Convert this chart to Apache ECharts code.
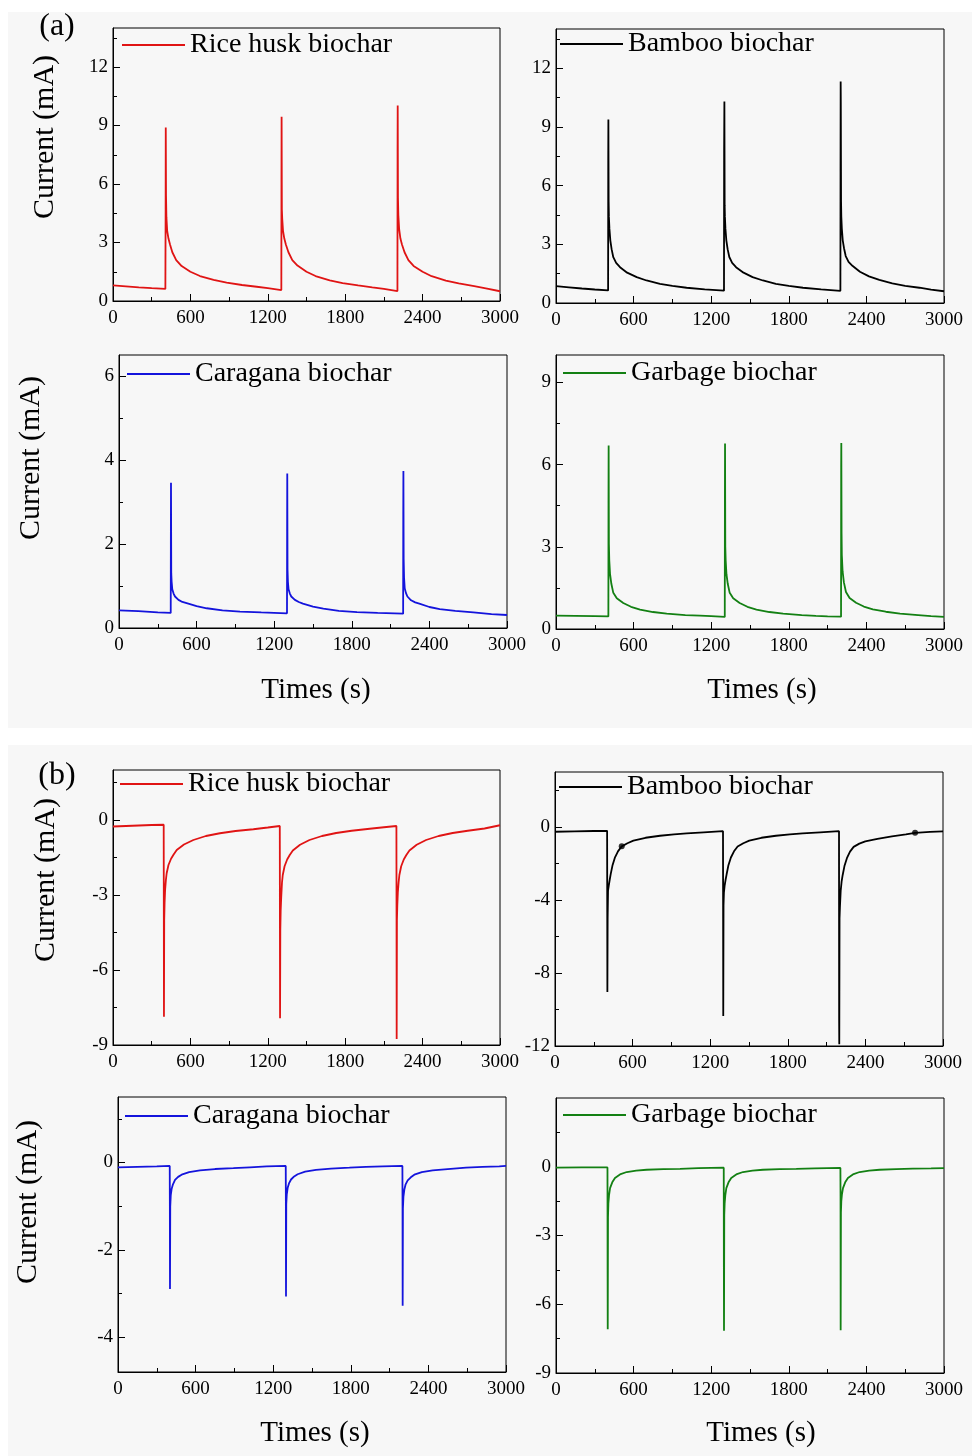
<!DOCTYPE html>
<html><head><meta charset="utf-8">
<script src="https://cdn.jsdelivr.net/npm/echarts@6/dist/echarts.min.js"></script>
<style>html,body{margin:0;padding:0;background:#fff}#c{width:972px;height:1456px}</style>
</head><body><div id="c"></div>
<script>
// ---------------- data ----------------
const xTickLabels = [0, 600, 1200, 1800, 2400, 3000];
const sampleNames = ['Rice husk biochar', 'Bamboo biochar', 'Caragana biochar', 'Garbage biochar'];

// (a) charging current, [time s, current mA]
const riceHuskA = [[0,0.80],[100,0.75],[200,0.70],[300,0.66],[406,0.62],[408,4.7],[409,8.9],[411,5.4],[414,4.3],[420,3.6],[430,3.2],[442,2.9],[460,2.5],[490,2.1],[532,1.79],[600,1.5],[674,1.28],[780,1.08],[881,0.94],[1000,0.82],[1114,0.73],[1200,0.66],[1305,0.56],
  [1306,6.1],[1307,9.45],[1309,4.7],[1312,4.2],[1318,3.6],[1328,3.2],[1340,2.9],[1360,2.5],[1390,2.1],[1430,1.82],[1500,1.5],[1570,1.28],[1680,1.06],[1780,0.92],[1900,0.8],[2010,0.7],[2100,0.62],[2205,0.51],
  [2206,7.6],[2207,10.03],[2209,5.3],[2212,4.4],[2218,3.7],[2228,3.2],[2240,2.9],[2260,2.5],[2290,2.1],[2330,1.8],[2400,1.5],[2470,1.27],[2580,1.05],[2680,0.9],[2800,0.76],[2900,0.64],[3000,0.5]];
const bambooA = [[0,0.86],[100,0.80],[200,0.74],[300,0.69],[403,0.64],[404,7.3],[405,9.37],[407,5.2],[409,4.4],[413,3.8],[420,3.2],[430,2.75],[443,2.34],[465,2.05],[495,1.83],[550,1.55],[624,1.32],[700,1.15],[804,0.98],[900,0.88],[1010,0.78],[1150,0.7],[1299,0.63],
  [1300,7.8],[1302,10.3],[1304,5.0],[1306,4.4],[1310,3.8],[1317,3.2],[1327,2.75],[1340,2.35],[1362,2.05],[1392,1.83],[1450,1.55],[1520,1.32],[1600,1.15],[1700,0.98],[1800,0.87],[1910,0.78],[2050,0.7],[2199,0.62],
  [2200,6.7],[2201,11.32],[2202,10.3],[2204,5.2],[2206,4.4],[2210,3.8],[2217,3.2],[2227,2.8],[2240,2.4],[2262,2.1],[2292,1.9],[2350,1.6],[2420,1.36],[2500,1.18],[2600,1.0],[2700,0.88],[2810,0.78],[2900,0.68],[3000,0.6]];
const caraganaA = [[0,0.42],[150,0.40],[300,0.37],[400,0.36],[401,2.0],[402,3.46],[404,1.3],[407,1.1],[412,0.92],[422,0.82],[433,0.75],[460,0.67],[490,0.62],[523,0.59],[600,0.52],[678,0.47],[800,0.42],[936,0.39],[1100,0.37],[1299,0.35],
  [1300,2.3],[1301,3.68],[1303,1.4],[1306,1.1],[1311,0.92],[1321,0.82],[1332,0.75],[1360,0.67],[1390,0.62],[1422,0.58],[1500,0.51],[1580,0.46],[1700,0.41],[1840,0.38],[2000,0.36],[2197,0.34],
  [2198,2.7],[2199,3.74],[2201,1.65],[2204,1.2],[2209,0.95],[2219,0.83],[2230,0.75],[2258,0.66],[2290,0.61],[2322,0.58],[2400,0.5],[2480,0.45],[2600,0.41],[2740,0.37],[2880,0.33],[3000,0.31]];
const garbageA = [[0,0.49],[150,0.48],[300,0.47],[405,0.46],[406,4.6],[407,6.7],[409,3.1],[412,2.5],[418,2.0],[428,1.65],[443,1.32],[470,1.12],[520,0.95],[580,0.81],[650,0.71],[750,0.62],[856,0.56],[1000,0.51],[1113,0.49],[1200,0.47],[1305,0.44],
  [1306,4.7],[1307,6.77],[1309,3.0],[1312,2.5],[1318,2.0],[1328,1.65],[1343,1.32],[1370,1.12],[1420,0.95],[1480,0.81],[1550,0.71],[1650,0.62],[1756,0.56],[1900,0.51],[2010,0.48],[2100,0.46],[2204,0.45],
  [2205,5.9],[2206,6.79],[2208,3.5],[2210,2.7],[2216,2.1],[2226,1.7],[2242,1.35],[2270,1.13],[2320,0.96],[2380,0.82],[2450,0.72],[2550,0.63],[2660,0.56],[2800,0.51],[2900,0.47],[3000,0.44]];

// (b) discharging current, [time s, current mA]
const riceHuskB = [[0,-0.26],[150,-0.23],[300,-0.2],[393,-0.19],[394,-3.9],[395,-7.87],[397,-4.0],[400,-3.3],[404,-2.8],[410,-2.4],[416,-2.13],[430,-1.8],[450,-1.55],[470,-1.38],[494,-1.2],[550,-0.98],[623,-0.8],[720,-0.64],[829,-0.53],[950,-0.44],[1088,-0.37],[1200,-0.3],[1293,-0.24],
  [1294,-4.3],[1295,-7.93],[1297,-4.4],[1300,-3.6],[1304,-3.1],[1310,-2.5],[1316,-2.2],[1330,-1.85],[1350,-1.58],[1370,-1.4],[1394,-1.22],[1450,-0.99],[1523,-0.8],[1620,-0.64],[1730,-0.52],[1850,-0.43],[1990,-0.35],[2100,-0.29],[2197,-0.24],
  [2198,-3.9],[2199,-8.76],[2201,-4.0],[2204,-3.4],[2208,-2.9],[2214,-2.5],[2220,-2.2],[2234,-1.85],[2254,-1.58],[2274,-1.4],[2298,-1.22],[2354,-0.99],[2427,-0.8],[2524,-0.64],[2633,-0.52],[2750,-0.43],[2880,-0.34],[3000,-0.21]];
const bambooB = [[0,-0.27],[150,-0.25],[300,-0.23],[403,-0.22],[404,-4.7],[405,-9.04],[407,-5.0],[410,-3.5],[416,-3.2],[423,-2.9],[431,-2.58],[445,-2.1],[464,-1.67],[488,-1.33],[516,-1.07],[560,-0.9],[606,-0.76],[700,-0.6],[812,-0.49],[920,-0.41],[1018,-0.36],[1150,-0.3],[1299,-0.24],
  [1300,-5.0],[1301,-10.36],[1303,-4.3],[1306,-3.6],[1312,-3.2],[1319,-2.9],[1327,-2.6],[1341,-2.1],[1360,-1.68],[1384,-1.34],[1412,-1.08],[1456,-0.9],[1502,-0.76],[1596,-0.6],[1708,-0.49],[1816,-0.41],[1914,-0.36],[2050,-0.3],[2196,-0.24],
  [2197,-10.6],[2198,-11.9],[2200,-5.0],[2203,-4.4],[2209,-3.5],[2216,-3.0],[2224,-2.65],[2238,-2.15],[2257,-1.72],[2281,-1.36],[2309,-1.1],[2353,-0.92],[2399,-0.8],[2493,-0.66],[2605,-0.52],[2713,-0.42],[2784,-0.33],[2900,-0.28],[3000,-0.25]];
const bambooBMarkers = [[516,-1.07],[2784,-0.33]];
const caraganaB = [[0,-0.11],[150,-0.1],[300,-0.09],[400,-0.08],[401,-1.0],[402,-2.9],[404,-1.0],[408,-0.75],[415,-0.6],[425,-0.5],[441,-0.4],[465,-0.33],[492,-0.28],[550,-0.22],[634,-0.18],[750,-0.15],[892,-0.13],[1020,-0.11],[1149,-0.09],[1297,-0.08],
  [1298,-0.9],[1299,-3.07],[1301,-0.95],[1305,-0.73],[1312,-0.58],[1322,-0.48],[1338,-0.39],[1362,-0.32],[1389,-0.27],[1447,-0.21],[1531,-0.17],[1647,-0.14],[1789,-0.12],[1917,-0.1],[2046,-0.09],[2199,-0.08],
  [2200,-1.0],[2201,-3.28],[2203,-1.05],[2207,-0.78],[2214,-0.62],[2224,-0.5],[2240,-0.41],[2264,-0.34],[2291,-0.28],[2349,-0.22],[2433,-0.18],[2549,-0.15],[2691,-0.12],[2819,-0.1],[2948,-0.09],[3000,-0.08]];
const garbageB = [[0,-0.04],[200,-0.03],[398,-0.03],[399,-4.5],[400,-7.09],[402,-2.2],[405,-1.6],[410,-1.25],[418,-0.93],[435,-0.68],[456,-0.49],[500,-0.32],[547,-0.23],[620,-0.17],[701,-0.13],[830,-0.1],[959,-0.09],[1100,-0.06],[1297,-0.04],
  [1298,-4.4],[1299,-7.16],[1301,-2.1],[1304,-1.6],[1309,-1.25],[1317,-0.93],[1334,-0.68],[1355,-0.49],[1399,-0.32],[1446,-0.23],[1519,-0.17],[1600,-0.13],[1729,-0.1],[1858,-0.09],[2000,-0.07],[2199,-0.05],
  [2200,-1.3],[2201,-7.13],[2203,-2.0],[2206,-1.5],[2211,-1.2],[2219,-0.93],[2236,-0.68],[2257,-0.49],[2301,-0.32],[2348,-0.23],[2421,-0.17],[2502,-0.13],[2631,-0.1],[2760,-0.08],[2900,-0.07],[3000,-0.06]];

// y tick labels (major) and minor tick positions
const yTicksRiceA = [0,3,6,9,12],   yMinorRiceA = [1.5,4.5,7.5,10.5,13.5];
const yTicksBambooA = [0,3,6,9,12], yMinorBambooA = [1.5,4.5,7.5,10.5,13.5];
const yTicksCaraA = [0,2,4,6],      yMinorCaraA = [1,3,5];
const yTicksGarbA = [0,3,6,9],      yMinorGarbA = [1.5,4.5,7.5];
const yTicksRiceB = [-9,-6,-3,0],   yMinorRiceB = [-7.5,-4.5,-1.5,1.5];
const yTicksBambooB = [-12,-8,-4,0],yMinorBambooB = [-10,-6,-2,2];
const yTicksCaraB = [-4,-2,0],      yMinorCaraB = [-3,-1,1];
const yTicksGarbB = [-9,-6,-3,0],   yMinorGarbB = [-7.5,-4.5,-1.5,1.5];

// ---------------- layout ----------------
const FONT = '"Liberation Serif", "Times New Roman", serif';
const COLORS = {'Rice husk biochar':'#e01414','Bamboo biochar':'#000000','Caragana biochar':'#1414dc','Garbage biochar':'#138013'};
const panels = [
  {g:[113,28,387,273],  y:[0,14],    major:yTicksRiceA,   minor:yMinorRiceA,   data:riceHuskA, name:sampleNames[0], lg:[122,45]},
  {g:[556,29,388,274],  y:[0,14],    major:yTicksBambooA, minor:yMinorBambooA, data:bambooA,   name:sampleNames[1], lg:[560,44]},
  {g:[119,355,388,273], y:[0,6.5],   major:yTicksCaraA,   minor:yMinorCaraA,   data:caraganaA, name:sampleNames[2], lg:[127,374]},
  {g:[556,355,388,274], y:[0,10],    major:yTicksGarbA,   minor:yMinorGarbA,   data:garbageA,  name:sampleNames[3], lg:[563,373]},
  {g:[113,770,387,275], y:[-9,2],    major:yTicksRiceB,   minor:yMinorRiceB,   data:riceHuskB, name:sampleNames[0], lg:[120,784]},
  {g:[555,772,388,274], y:[-12,3],   major:yTicksBambooB, minor:yMinorBambooB, data:bambooB,   name:sampleNames[1], lg:[559,787]},
  {g:[118,1097,388,275],y:[-4.8,1.5],major:yTicksCaraB,   minor:yMinorCaraB,   data:caraganaB, name:sampleNames[2], lg:[125,1116]},
  {g:[556,1098,388,275],y:[-9,3],    major:yTicksGarbB,   minor:yMinorGarbB,   data:garbageB,  name:sampleNames[3], lg:[563,1115]}
];

const grid = [], xAxis = [], yAxis = [], series = [], legend = [];
panels.forEach((p, i) => {
  grid.push({left:p.g[0], top:p.g[1], width:p.g[2], height:p.g[3], show:true, borderColor:'#000', borderWidth:1, backgroundColor:'transparent', containLabel:false});
  xAxis.push({type:'value', gridIndex:i, min:0, max:3000, interval:600,
    axisLine:{show:true, onZero:false, lineStyle:{color:'#000', width:1}},
    axisTick:{show:true, inside:true, length:7, lineStyle:{color:'#000'}},
    minorTick:{show:true, splitNumber:2, length:4, lineStyle:{color:'#000'}},
    splitLine:{show:false}, minorSplitLine:{show:false},
    axisLabel:{fontFamily:FONT, fontSize:19, color:'#000', margin:8, customValues:xTickLabels, formatter:v => String(v)}});
  yAxis.push({type:'value', gridIndex:i, min:p.y[0], max:p.y[1], position:'left',
    axisLine:{show:true, onZero:false, lineStyle:{color:'#000', width:1}},
    axisTick:{show:true, inside:true, length:7, customValues:p.major, lineStyle:{color:'#000'}},
    splitLine:{show:false},
    axisLabel:{fontFamily:FONT, fontSize:19, color:'#000', margin:5, customValues:p.major, formatter:v => String(v)}});
  series.push({type:'line', name:p.name, xAxisIndex:i, yAxisIndex:2*i, data:p.data, showSymbol:false, symbol:'none',
    color:COLORS[p.name], lineStyle:{width:1.8, color:COLORS[p.name]}, animation:false, silent:true});
  legend.push({data:[p.name], left:p.lg[0], top:p.lg[1]-14, padding:0, itemWidth:63, itemHeight:2, icon:'rect',
    selectedMode:false, textStyle:{fontFamily:FONT, fontSize:28, color:'#000'}});
});
// minor y ticks: a second, label-less axis per grid
panels.forEach((p, i) => {
  yAxis.splice(2*i+1, 0, {type:'value', gridIndex:i, min:p.y[0], max:p.y[1], position:'left',
    axisLine:{show:false}, axisLabel:{show:false}, splitLine:{show:false},
    axisTick:{show:true, inside:true, length:4, customValues:p.minor, lineStyle:{color:'#000'}}});
});
series.push({type:'scatter', name:'markers', xAxisIndex:5, yAxisIndex:10, data:bambooBMarkers, symbolSize:6, itemStyle:{color:'#000'}, animation:false, silent:true});

const txt = (text, x, y, size, rot) => ({type:'text', x, y, rotation:rot||0, silent:true,
  style:{text, fontFamily:FONT, fontSize:size, fill:'#000', align:'center', verticalAlign:'middle'}});

const graphic = [
  {type:'rect', shape:{x:8, y:12, width:964, height:716}, style:{fill:'#f7f7f7'}, z:-10, silent:true},
  {type:'rect', shape:{x:8, y:745, width:964, height:711}, style:{fill:'#f7f7f7'}, z:-10, silent:true},
  txt('(a)', 57, 27, 32), txt('(b)', 57, 776, 32),
  txt('Current (mA)', 45, 137, 30, Math.PI/2),
  txt('Current (mA)', 31, 458, 30, Math.PI/2),
  txt('Current (mA)', 46, 880, 30, Math.PI/2),
  txt('Current (mA)', 28, 1202, 30, Math.PI/2),
  txt('Times (s)', 316, 690, 29), txt('Times (s)', 762, 690, 29),
  txt('Times (s)', 315, 1433, 29), txt('Times (s)', 761, 1433, 29)
];

const chart = echarts.init(document.getElementById('c'), null, {renderer:'canvas'});
chart.setOption({animation:false, backgroundColor:'#ffffff', grid, xAxis, yAxis, series, legend, graphic});
</script></body></html>
